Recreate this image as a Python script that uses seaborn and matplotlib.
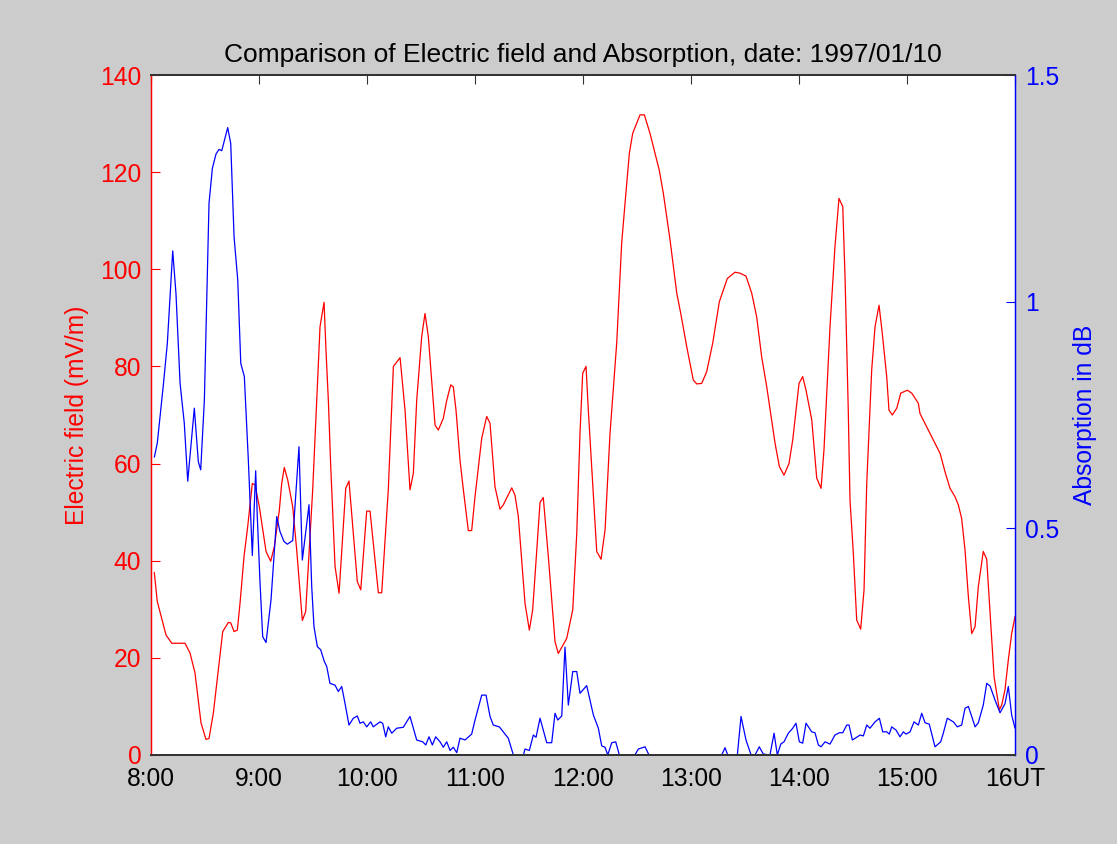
import matplotlib
matplotlib.use("Agg")
import matplotlib.pyplot as plt
import seaborn as sns

# Electric field samples (UT hours, mV/m)
efield_time = [
    8.030, 8.058, 8.139, 8.192, 8.315, 8.361, 8.407, 8.463, 8.509, 8.537,
    8.577, 8.623, 8.664, 8.716, 8.738, 8.769, 8.799, 8.824, 8.861, 8.895,
    8.938, 8.963, 9.003, 9.065, 9.108, 9.142, 9.188, 9.210, 9.234, 9.266,
    9.312, 9.349, 9.401, 9.432, 9.497, 9.534, 9.565, 9.602, 9.620, 9.642,
    9.664, 9.704, 9.741, 9.803, 9.833, 9.910, 9.942, 9.997, 10.028, 10.105,
    10.136, 10.197, 10.244, 10.306, 10.352, 10.398, 10.429, 10.460, 10.506, 10.537,
    10.568, 10.630, 10.660, 10.706, 10.738, 10.775, 10.799, 10.824, 10.861, 10.892,
    10.938, 10.969, 11.000, 11.062, 11.108, 11.139, 11.185, 11.231, 11.262, 11.340,
    11.370, 11.401, 11.463, 11.503, 11.534, 11.602, 11.632, 11.679, 11.741, 11.771,
    11.849, 11.905, 11.942, 11.972, 11.997, 12.028, 12.049, 12.090, 12.127, 12.167,
    12.204, 12.250, 12.312, 12.358, 12.389, 12.429, 12.460, 12.528, 12.568, 12.620,
    12.706, 12.744, 12.806, 12.868, 12.905, 12.960, 13.021, 13.053, 13.099, 13.145,
    13.201, 13.262, 13.336, 13.407, 13.454, 13.509, 13.562, 13.608, 13.654, 13.701,
    13.778, 13.818, 13.861, 13.907, 13.942, 14.000, 14.034, 14.065, 14.118, 14.164,
    14.204, 14.231, 14.287, 14.333, 14.370, 14.405, 14.426, 14.456, 14.472, 14.503,
    14.534, 14.571, 14.602, 14.627, 14.673, 14.704, 14.741, 14.771, 14.812, 14.833,
    14.864, 14.905, 14.942, 15.003, 15.044, 15.105, 15.120, 15.197, 15.259, 15.306,
    15.352, 15.398, 15.444, 15.475, 15.506, 15.537, 15.568, 15.599, 15.630, 15.660,
    15.706, 15.738, 15.769, 15.806, 15.855, 15.877, 15.907, 15.938, 15.969, 16.000,
]
efield_value = [
    37.6, 31.6, 24.7, 23.0, 23.0, 21.0, 16.9, 6.6, 3.2, 3.4,
    8.6, 17.5, 25.4, 27.3, 27.2, 25.4, 25.7, 31.2, 40.8, 47.0,
    55.9, 55.6, 51.1, 41.9, 39.9, 42.9, 50.4, 55.9, 59.2, 56.6,
    51.1, 42.2, 27.7, 29.5, 54.6, 73.0, 88.2, 93.2, 83.4, 73.0,
    59.4, 38.8, 33.3, 54.9, 56.4, 35.7, 34.0, 50.2, 50.2, 33.4,
    33.4, 54.6, 80.0, 81.8, 71.0, 54.6, 58.0, 73.0, 86.1, 90.9,
    86.1, 67.9, 66.9, 69.3, 73.0, 76.2, 75.8, 71.0, 60.7, 54.6,
    46.2, 46.2, 53.2, 65.2, 69.7, 68.3, 55.2, 50.6, 51.5, 55.0,
    53.5, 49.1, 31.2, 25.7, 29.9, 52.0, 53.0, 40.8, 23.3, 20.9,
    24.0, 29.9, 45.6, 66.2, 78.6, 80.0, 71.0, 55.9, 41.9, 40.3,
    46.3, 66.2, 84.8, 105.4, 113.6, 123.9, 128.0, 131.8, 131.8, 128.0,
    120.4, 115.6, 106.0, 95.1, 90.9, 84.1, 77.2, 76.4, 76.5, 78.9,
    84.8, 93.3, 98.1, 99.4, 99.2, 98.6, 95.1, 90.2, 82.0, 75.8,
    64.2, 59.4, 57.6, 60.0, 64.9, 76.5, 77.9, 75.1, 69.0, 57.0,
    54.9, 62.8, 88.2, 104.7, 114.6, 112.9, 98.5, 71.0, 52.5, 41.5,
    27.8, 25.9, 34.0, 55.9, 79.3, 88.2, 92.6, 86.8, 77.9, 71.0,
    70.0, 71.4, 74.5, 75.1, 74.5, 72.4, 70.3, 66.9, 64.2, 62.1,
    58.3, 54.9, 53.2, 51.5, 48.7, 42.2, 32.6, 25.0, 26.4, 34.6,
    41.9, 40.3, 29.2, 16.1, 9.3, 10.3, 13.4, 19.6, 25.0, 28.5,
]

# Riometer absorption samples (UT hours, dB)
absorption_time = [
    8.031, 8.058, 8.114, 8.151, 8.201, 8.231, 8.269, 8.308, 8.340, 8.401,
    8.438, 8.460, 8.494, 8.537, 8.568, 8.602, 8.630, 8.655, 8.710, 8.738,
    8.769, 8.803, 8.831, 8.864, 8.901, 8.938, 8.969, 8.984, 9.009, 9.034,
    9.065, 9.111, 9.164, 9.194, 9.231, 9.262, 9.312, 9.370, 9.401, 9.463,
    9.488, 9.509, 9.540, 9.571, 9.605, 9.627, 9.657, 9.704, 9.734, 9.766,
    9.796, 9.833, 9.873, 9.910, 9.935, 9.966, 9.997, 10.034, 10.058, 10.120,
    10.145, 10.173, 10.197, 10.229, 10.275, 10.336, 10.398, 10.460, 10.516, 10.544,
    10.574, 10.605, 10.636, 10.676, 10.706, 10.738, 10.769, 10.799, 10.831, 10.861,
    10.907, 10.969, 11.000, 11.062, 11.102, 11.139, 11.169, 11.225, 11.308, 11.355,
    11.448, 11.463, 11.503, 11.540, 11.565, 11.602, 11.664, 11.710, 11.741, 11.766,
    11.803, 11.833, 11.864, 11.905, 11.942, 11.972, 12.034, 12.096, 12.142, 12.173,
    12.204, 12.229, 12.266, 12.303, 12.336, 12.481, 12.512, 12.574, 12.611, 13.284,
    13.315, 13.340, 13.429, 13.463, 13.509, 13.556, 13.593, 13.632, 13.669, 13.731,
    13.769, 13.799, 13.831, 13.861, 13.901, 13.942, 13.972, 14.003, 14.034, 14.065,
    14.118, 14.148, 14.179, 14.204, 14.241, 14.287, 14.333, 14.373, 14.405, 14.442,
    14.463, 14.494, 14.534, 14.565, 14.596, 14.627, 14.657, 14.704, 14.744, 14.775,
    14.812, 14.836, 14.858, 14.898, 14.935, 14.966, 14.991, 15.028, 15.065, 15.105,
    15.136, 15.167, 15.206, 15.259, 15.312, 15.336, 15.373, 15.429, 15.466, 15.506,
    15.537, 15.568, 15.599, 15.630, 15.660, 15.706, 15.738, 15.769, 15.815, 15.861,
    15.907, 15.938, 15.969, 16.000,
]
absorption_value = [
    0.657, 0.688, 0.816, 0.908, 1.112, 1.018, 0.820, 0.732, 0.604, 0.765,
    0.647, 0.629, 0.783, 1.217, 1.294, 1.326, 1.336, 1.333, 1.384, 1.349,
    1.143, 1.048, 0.864, 0.835, 0.651, 0.440, 0.627, 0.526, 0.382, 0.261,
    0.248, 0.342, 0.526, 0.493, 0.471, 0.465, 0.473, 0.680, 0.430, 0.552,
    0.371, 0.283, 0.239, 0.232, 0.206, 0.195, 0.158, 0.154, 0.140, 0.151,
    0.114, 0.066, 0.081, 0.086, 0.070, 0.073, 0.062, 0.073, 0.062, 0.073,
    0.070, 0.040, 0.062, 0.048, 0.059, 0.061, 0.085, 0.033, 0.029, 0.022,
    0.040, 0.022, 0.040, 0.029, 0.017, 0.029, 0.010, 0.017, 0.005, 0.037,
    0.033, 0.046, 0.077, 0.132, 0.132, 0.085, 0.066, 0.062, 0.037, 0.000,
    0.000, 0.013, 0.010, 0.044, 0.039, 0.081, 0.027, 0.027, 0.092, 0.077,
    0.086, 0.238, 0.110, 0.184, 0.184, 0.136, 0.153, 0.088, 0.059, 0.020,
    0.017, 0.000, 0.027, 0.029, 0.000, 0.000, 0.013, 0.018, 0.000, 0.000,
    0.016, 0.000, 0.000, 0.085, 0.033, 0.000, 0.000, 0.018, 0.002, 0.000,
    0.048, 0.000, 0.024, 0.029, 0.048, 0.059, 0.070, 0.029, 0.026, 0.070,
    0.051, 0.049, 0.022, 0.018, 0.029, 0.024, 0.044, 0.049, 0.049, 0.066,
    0.066, 0.033, 0.039, 0.044, 0.042, 0.066, 0.059, 0.073, 0.081, 0.051,
    0.051, 0.046, 0.062, 0.055, 0.040, 0.051, 0.046, 0.051, 0.073, 0.066,
    0.092, 0.071, 0.068, 0.018, 0.029, 0.048, 0.081, 0.073, 0.062, 0.066,
    0.103, 0.107, 0.085, 0.062, 0.071, 0.110, 0.158, 0.152, 0.121, 0.093,
    0.113, 0.151, 0.088, 0.059,
]

hour_ticks = [8, 9, 10, 11, 12, 13, 14, 15, 16]
hour_labels = ["8:00", "9:00", "10:00", "11:00", "12:00", "13:00", "14:00", "15:00", "16UT"]
efield_ticks = [0, 20, 40, 60, 80, 100, 120, 140]
absorption_ticks = [0, 0.5, 1, 1.5]
absorption_labels = ["0", "0.5", "1", "1.5"]

sns.set_style("white")
plt.rcParams["font.family"] = ["Liberation Sans", "DejaVu Sans"]

FS = 17.7
frame = "#333333"

fig = plt.figure(figsize=(11.17, 8.44), dpi=100, facecolor="#cccccc")
ax = fig.add_axes([0.1352, 0.1055, 0.7735, 0.8056])
ax.set_facecolor("white")
ax2 = ax.twinx()

sns.lineplot(x=efield_time, y=efield_value, ax=ax, color="#ff0000",
             linewidth=0.9, estimator=None, sort=False, zorder=2)
sns.lineplot(x=absorption_time, y=absorption_value, ax=ax2, color="#0000ff",
             linewidth=0.9, estimator=None, sort=False, zorder=1)

ax.set_xlim(8, 16)
ax.set_ylim(0, 140)
ax2.set_ylim(0, 1.5)

ax.set_xticks(hour_ticks)
ax.set_xticklabels(hour_labels)
ax.set_yticks(efield_ticks)
ax2.set_yticks(absorption_ticks)
ax2.set_yticklabels(absorption_labels)

ax.tick_params(axis="x", direction="in", length=6.5, width=0.8, top=True,
               color=frame, labelcolor="black", labelsize=FS, pad=9)
ax.tick_params(axis="y", direction="in", length=6.5, width=0.8, left=True, right=False,
               color="#ff0000", labelcolor="#ff0000", labelsize=FS, pad=7)
ax2.tick_params(axis="y", direction="in", length=6.5, width=0.8, right=True, left=False,
                color="#0000ff", labelcolor="#0000ff", labelsize=FS, pad=7)
ax2.tick_params(axis="x", top=False, bottom=False)

for a in (ax, ax2):
    a.spines["top"].set_color(frame)
    a.spines["bottom"].set_color(frame)
    a.spines["left"].set_color("#ff0000")
    a.spines["right"].set_color("#0000ff")
    for name, s in a.spines.items():
        s.set_visible(True)
        s.set_zorder(5)
        s.set_linewidth(1.4 if name in ("top", "bottom") else 0.9)
    a.grid(False)

ax.set_xlabel("")
ax.set_ylabel("Electric field (mV/m)", color="#ff0000", fontsize=FS, labelpad=8)
ax2.set_ylabel("Absorption in dB", color="#0000ff", fontsize=FS, labelpad=10)
ax.set_title("Comparison of Electric field and Absorption, date: 1997/01/10",
             fontsize=19, color="black", pad=9.5)

fig.savefig("out.png", dpi=100, facecolor=fig.get_facecolor())
